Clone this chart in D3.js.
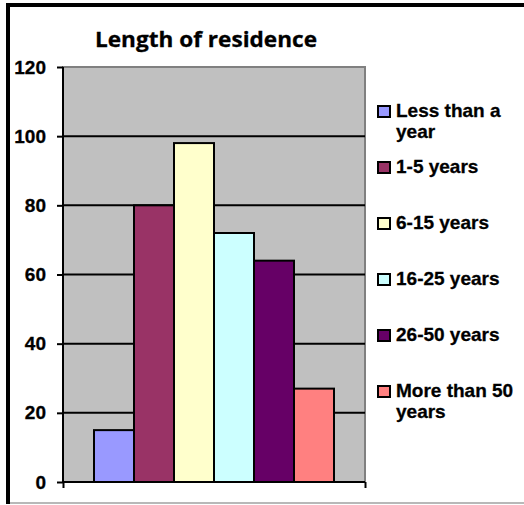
<!DOCTYPE html>
<html>
<head>
<meta charset="utf-8">
<script src="https://cdn.jsdelivr.net/npm/d3@7/dist/d3.min.js"></script>
<style>
  html, body { margin: 0; padding: 0; background: #ffffff; }
  svg { display: block; }
</style>
</head>
<body>
<svg id="chart" width="524" height="505"></svg>
<script>
const title = "Length of residence";
const categories = ["Less than a year", "1-5 years", "6-15 years", "16-25 years", "26-50 years", "More than 50 years"];
const legendLines = [["Less than a", "year"], ["1-5 years"], ["6-15 years"], ["16-25 years"], ["26-50 years"], ["More than 50", "years"]];
const values = [15, 80, 98, 72, 64, 27];
const colors = ["#9999FF", "#993366", "#FFFFCC", "#CCFFFF", "#660066", "#FF8080"];
const yTicks = [0, 20, 40, 60, 80, 100, 120];

const svg = d3.select("#chart");
const W = 524, H = 505;
const plot = { left: 63, right: 365, top: 67, bottom: 482 };
const sans = "'Liberation Sans', Arial, sans-serif";

// outer frame
svg.append("rect").attr("x", 0).attr("y", 0).attr("width", W).attr("height", H).attr("fill", "#fff");
svg.append("line").attr("x1", 8).attr("x2", W).attr("y1", 503).attr("y2", 503)
  .attr("stroke", "#a0a0a0").attr("stroke-width", 1.5);
svg.append("rect").attr("x", 6).attr("y", 3).attr("width", W - 6).attr("height", 4).attr("fill", "#000");
svg.append("rect").attr("x", 6).attr("y", 3).attr("width", 4).attr("height", 501).attr("fill", "#000");

const y = d3.scaleLinear().domain([0, 120]).range([plot.bottom, plot.top]);
const x = d3.scaleBand().domain(categories).range([plot.left, plot.right]).paddingInner(0).paddingOuter(0.775);

// plot background
svg.append("rect").attr("x", plot.left).attr("y", plot.top)
  .attr("width", plot.right - plot.left).attr("height", plot.bottom - plot.top)
  .attr("fill", "#C0C0C0").attr("stroke", "#808080").attr("stroke-width", 2);

// gridlines
svg.append("g").selectAll("line").data(yTicks.filter(d => d > 0 && d < 120)).join("line")
  .attr("x1", plot.left).attr("x2", plot.right)
  .attr("y1", d => y(d)).attr("y2", d => y(d))
  .attr("stroke", "#000").attr("stroke-width", 2);

// bars
svg.append("g").selectAll("rect").data(values).join("rect")
  .attr("x", (d, i) => x(categories[i]))
  .attr("y", d => y(d))
  .attr("width", x.bandwidth())
  .attr("height", d => y(0) - y(d))
  .attr("fill", (d, i) => colors[i])
  .attr("stroke", "#000").attr("stroke-width", 2);

// y axis
const yAxis = d3.axisLeft(y).tickValues(yTicks).tickSize(6).tickPadding(11);
const gy = svg.append("g").attr("transform", `translate(${plot.left},0)`).call(yAxis);
gy.select(".domain").attr("stroke", "#000").attr("stroke-width", 2).attr("d", `M0,${plot.top}V${plot.bottom}`);
gy.selectAll(".tick line").attr("stroke", "#000").attr("stroke-width", 2);
gy.selectAll(".tick text").attr("font-family", sans)
  .attr("font-weight", "bold").attr("font-size", 19).attr("fill", "#000")
  .attr("stroke", "#000").attr("stroke-width", 0.3);

// x axis (no labels, ticks at ends)
const xEdge = d3.scaleLinear().domain([0, 1]).range([plot.left, plot.right]);
const xAxis = d3.axisBottom(xEdge).tickValues([0, 1]).tickSize(6).tickFormat("");
const gx = svg.append("g").attr("transform", `translate(0,${plot.bottom})`).call(xAxis);
gx.select(".domain").attr("stroke", "#000").attr("stroke-width", 2).attr("d", `M${plot.left},0H${plot.right}`);
gx.selectAll(".tick line").attr("stroke", "#000").attr("stroke-width", 2);

// title
svg.append("text").attr("x", 206).attr("y", 47).attr("text-anchor", "middle")
  .attr("font-family", "'Open Sans', 'DejaVu Sans', sans-serif").attr("font-weight", 700)
  .attr("font-size", 21).attr("fill", "#000")
  .attr("stroke", "#000").attr("stroke-width", 0.3)
  .attr("textLength", 222).attr("lengthAdjust", "spacingAndGlyphs")
  .text(title);

// legend
const legendY = d3.scalePoint().domain(categories).range([117, 397]);
const lg = svg.append("g").selectAll("g").data(categories).join("g")
  .attr("transform", d => `translate(0,${legendY(d)})`);
lg.append("rect").attr("x", 378).attr("y", -11).attr("width", 12).attr("height", 11)
  .attr("fill", (d, i) => colors[i]).attr("stroke", "#000").attr("stroke-width", 2);
lg.append("text").attr("x", 396).attr("y", 0)
  .attr("font-family", sans).attr("font-weight", "bold")
  .attr("font-size", 19).attr("fill", "#000")
  .attr("stroke", "#000").attr("stroke-width", 0.3)
  .selectAll("tspan").data((d, i) => legendLines[i]).join("tspan")
  .attr("x", 396).attr("dy", (d, j) => j === 0 ? 0 : 21).text(d => d);
</script>
</body>
</html>
